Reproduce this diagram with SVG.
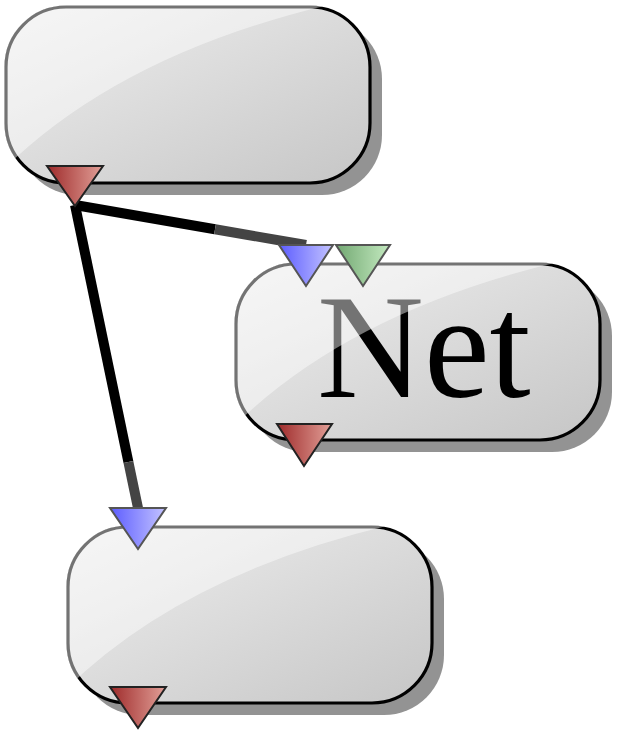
<svg xmlns="http://www.w3.org/2000/svg" width="622" height="737" viewBox="0 0 622 737">
  <defs>
    <linearGradient id="fillG" x1="0" y1="0" x2="1" y2="1">
      <stop offset="0" stop-color="#efefef"/>
      <stop offset="1" stop-color="#c6c6c6"/>
    </linearGradient>
    <linearGradient id="redG" x1="0" y1="0" x2="1" y2="0">
      <stop offset="0" stop-color="#9e2a2a"/>
      <stop offset="1" stop-color="#e2a098"/>
    </linearGradient>
    <linearGradient id="blueG" x1="0" y1="0" x2="1" y2="0">
      <stop offset="0" stop-color="#5c5cff"/>
      <stop offset="1" stop-color="#c4c4ff"/>
    </linearGradient>
    <linearGradient id="greenG" x1="0" y1="0" x2="1" y2="0">
      <stop offset="0" stop-color="#72a872"/>
      <stop offset="1" stop-color="#c4eac0"/>
    </linearGradient>
    <clipPath id="nodeClip">
      <rect x="-2" y="-2" width="368" height="180" rx="62" ry="62"/>
    </clipPath>
  </defs>
  <style>
    .shadow { fill: #939393; }
    .box { fill: url(#fillG); stroke: #000; stroke-width: 3.2; }
    .gloss { fill: #fff; fill-opacity: 0.45; }
    .red { fill: url(#redG); stroke: #222; stroke-width: 2; }
    .blue { fill: url(#blueG); stroke: #555; stroke-width: 2; }
    .green { fill: url(#greenG); stroke: #555; stroke-width: 2; }
    .wire { stroke-width: 10; fill: none; stroke-linecap: butt; }
    .label { font-family: "Liberation Serif", "Times New Roman", serif; font-size: 148px; fill: #000; }
  </style>

  <g id="connectors">
    <line class="wire" x1="75" y1="205" x2="215" y2="229.3" stroke="#000"/>
    <line class="wire" x1="215" y1="229.3" x2="306" y2="245" stroke="#444"/>
    <line class="wire" x1="75" y1="205" x2="128.4" y2="462" stroke="#000"/>
    <line class="wire" x1="128.4" y1="462" x2="138" y2="508" stroke="#444"/>
  </g>

  <g id="node1">
    <g transform="translate(6,7)">
      <rect class="shadow" x="12" y="12" width="364" height="176" rx="60" ry="60"/>
      <rect class="box" x="0" y="0" width="364" height="176" rx="60" ry="60"/>
      <path class="gloss" clip-path="url(#nodeClip)" d="M -5 165 Q 115 45 335 -5 L -5 -5 Z"/>
    </g>
    <polygon class="red" points="47,166 103,166 75,206"/>
  </g>

  <g id="node2">
    <g transform="translate(236,264)">
      <rect class="shadow" x="12" y="12" width="364" height="176" rx="60" ry="60"/>
      <rect class="box" x="0" y="0" width="364" height="176" rx="60" ry="60"/>
      <text class="label" x="81" y="133">Net</text>
      <path class="gloss" clip-path="url(#nodeClip)" d="M -5 165 Q 115 45 335 -5 L -5 -5 Z"/>
    </g>
    <polygon class="blue" points="279,245 333,245 306,286"/>
    <polygon class="green" points="336,245 390,245 363,286"/>
    <polygon class="red" points="277,424 332,424 304,466"/>
  </g>

  <g id="node3">
    <g transform="translate(68,527)">
      <rect class="shadow" x="12" y="12" width="364" height="176" rx="60" ry="60"/>
      <rect class="box" x="0" y="0" width="364" height="176" rx="60" ry="60"/>
      <path class="gloss" clip-path="url(#nodeClip)" d="M -5 165 Q 115 45 335 -5 L -5 -5 Z"/>
    </g>
    <polygon class="blue" points="110,508 166,508 138,549"/>
    <polygon class="red" points="110,687 166,687 138,728"/>
  </g>
</svg>
